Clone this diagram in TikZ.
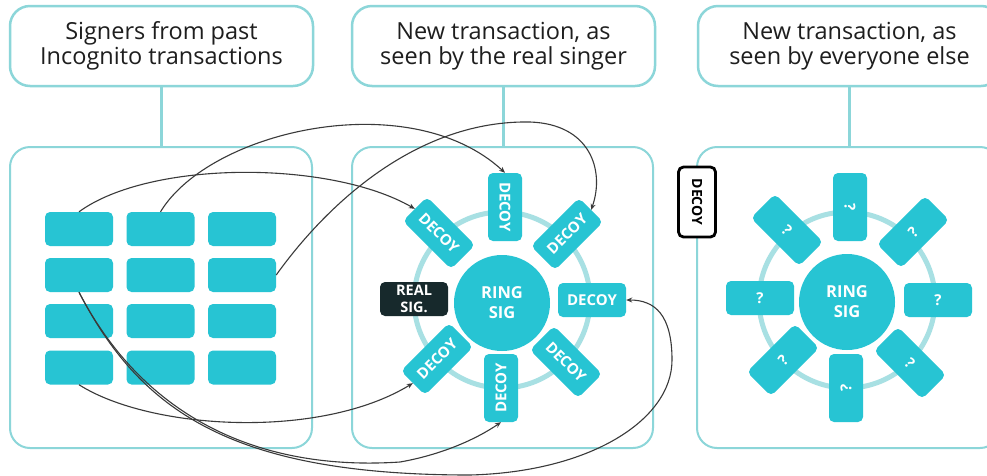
\documentclass[tikz,border=0pt]{standalone}
\usepackage{fontspec}
\setmainfont{Open Sans}
\usetikzlibrary{arrows.meta}

\definecolor{sigteal}{HTML}{27C4D3}
\definecolor{frameteal}{HTML}{8CD6D9}
\definecolor{ringteal}{HTML}{A8E0E3}
\definecolor{sigdark}{HTML}{17292C}
\definecolor{wire}{HTML}{3A3A3A}
\definecolor{inktext}{HTML}{1E1E1E}

\tikzset{
  header/.style={draw=frameteal, line width=2.5pt, rounded corners=20pt,
    minimum width=303pt, minimum height=80pt, inner sep=0pt, align=center,
    text=inktext, font=\fontsize{23.5}{25.5}\selectfont},
  panel/.style={draw=frameteal, line width=2pt, rounded corners=20pt, inner sep=0pt},
  stem/.style={draw=frameteal, line width=2.5pt},
  cell/.style={rectangle, rounded corners=5pt, fill=sigteal,
    minimum width=68pt, minimum height=34pt, inner sep=0pt},
  slot/.style={cell, text=white, font=\bfseries\fontsize{15}{17}\selectfont},
  realsig/.style={slot, fill=sigdark, align=center, font=\bfseries\fontsize{14.5}{16.5}\selectfont},
  hub/.style={circle, fill=sigteal, minimum size=96pt, inner sep=0pt, align=center,
    text=white, font=\bfseries\fontsize{16.5}{20}\selectfont},
  ring/.style={draw=ringteal, line width=5pt},
  tag/.style={rectangle, rounded corners=5pt, draw=black, line width=2.8pt, fill=white,
    minimum width=70pt, minimum height=37pt, inner sep=0pt,
    font=\bfseries\fontsize{14}{15}\selectfont},
  link/.style={draw=wire, line width=1.1pt, -{Stealth[length=6pt,width=5pt]}},
}

\begin{document}
\begin{tikzpicture}[x=1pt,y=-1pt]
\clip (0,0) rectangle (987,475);
\fill[white] (0,0) rectangle (987,475);

% headers
\node[header] (h1) at (161.5,46) {Signers from past\\Incognito transactions};
\node[header] (h2) at (503.5,46) {New transaction, as\\seen by the real singer};
\node[header] (h3) at (849.5,46) {New transaction, as\\seen by everyone else};

% panels
\node[panel, minimum width=302pt, minimum height=301pt] (p1) at (161,297.5) {};
\node[panel, minimum width=301pt, minimum height=301pt] (p2) at (502.5,297.5) {};
\node[panel, minimum width=303pt, minimum height=301pt] (p3) at (848.5,297.5) {};

\draw[stem] (h1.south) -- (h1.south |- p1.north);
\draw[stem] (h2.south) -- (h2.south |- p2.north);
\draw[stem] (h3.south) -- (h3.south |- p3.north);

% past signers grid
\foreach \c/\x in {1/79,2/160.5,3/242}{
  \foreach \r/\y in {1/229,2/275,3/321,4/367.5}{
    \node[cell] (r\r c\c) at (\x,\y) {};
  }
}

% ring as seen by the real signer
\draw[ring] (502,300) circle (88);
\node[hub] (hubA) at (502,303) {RING\\SIG};
\node[slot, rotate=-90] (dt)  at (505,207) {DECOY};
\node[slot, rotate=-45] (dtl) at (439,233) {DECOY};
\node[slot, rotate=45]  (dtr) at (567,234) {DECOY};
\node[slot]             (dr)  at (592,300) {DECOY};
\node[slot, rotate=-45] (dbr) at (566,362) {DECOY};
\node[slot, rotate=90]  (db)  at (501,388) {DECOY};
\node[slot, rotate=45]  (dbl) at (437,359) {DECOY};
\node[realsig]          (rs)  at (414,299) {REAL\\SIG.};

% ring as seen by everyone else
\draw[ring] (847,300) circle (88);
\node[hub] (hubB) at (847,302) {RING\\SIG};
\node[slot, rotate=-90] (qt)  at (850,207) {?};
\node[slot, rotate=-45] (qtl) at (787,230) {?};
\node[slot, rotate=45]  (qtr) at (913,232) {?};
\node[slot]             (qr)  at (938,300) {?};
\node[slot, rotate=-45] (qbr) at (910,363) {?};
\node[slot, rotate=90]  (qb)  at (846,388) {?};
\node[slot, rotate=45]  (qbl) at (783,360) {?};
\node[slot]             (ql)  at (760,298) {?};

% legend tag
\node[tag, rotate=-90] (tagdecoy) at (697,202) {DECOY};

% decoys drawn from past transactions
\draw[link] (r1c1.north) .. controls (150,160) and (330,160) .. (dtl.west);
\draw[link] (r1c2.north) .. controls (210,130) and (410,85) .. (dt.west);
\draw[link] (r2c3.east) .. controls (330,200) and (420,120) .. (530,122)
                        .. controls (590,124) and (605,170) .. (dtr.east);
\draw[link] (r2c1.south) .. controls (140,410) and (230,475) .. (470,475)
                         .. controls (590,472) and (672,420) .. (672,360)
                         .. controls (672,315) and (655,300) .. (dr.east);
\draw[link] (r2c1.south) .. controls (140,410) and (250,472) .. (400,462)
                         .. controls (440,455) and (475,440) .. (db.west);
\draw[link] (r4c1.south) .. controls (150,430) and (320,440) .. (dbl.west);
\end{tikzpicture}
\end{document}
